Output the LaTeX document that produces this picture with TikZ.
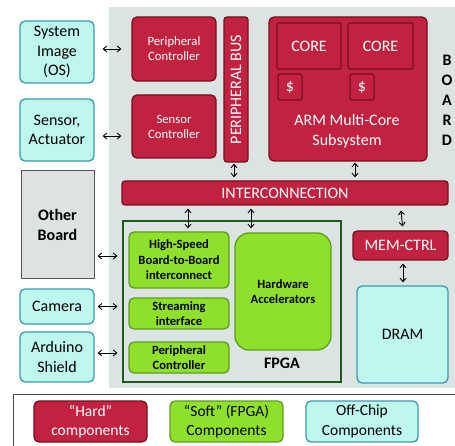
\documentclass[tikz,border=0pt]{standalone}
\usepackage{fontspec}
\setmainfont{Carlito}
\usetikzlibrary{arrows.meta}
\definecolor{hardfill}{HTML}{C0223F}
\definecolor{harddraw}{HTML}{7A0E1E}
\definecolor{softfill}{HTML}{8EE02A}
\definecolor{softdraw}{HTML}{5E9E1E}
\definecolor{offfill}{HTML}{BDF7EE}
\definecolor{offdraw}{HTML}{3A9BAA}
\definecolor{boardbg}{HTML}{DCE3E3}
\definecolor{otherfill}{HTML}{DEE2E2}
\definecolor{otherdraw}{HTML}{555555}
\definecolor{fpgadraw}{HTML}{1E5A1E}
\tikzset{
  box/.style={rounded corners=5pt, line width=1.3pt, inner sep=0pt, align=center},
  hard/.style={box, fill=hardfill, draw=harddraw, text=white},
  soft/.style={box, fill=softfill, draw=softdraw, text=black},
  offchip/.style={box, fill=offfill, draw=offdraw, text=black},
  big/.style={font=\fontsize{16}{19.5}\selectfont},
  small/.style={font=\fontsize{12.7}{15}\selectfont},
  softtxt/.style={font=\bfseries\fontsize{12.6}{15.5}\selectfont},
  biarrow/.style={{Straight Barb[length=3.5pt,width=6pt]}-{Straight Barb[length=3.5pt,width=6pt]}, line width=0.9pt, black},
}
\begin{document}
\begin{tikzpicture}[x=1pt,y=-1pt]
\useasboundingbox (0,0) rectangle (455,446);
% board background
\fill[boardbg] (109,7) rectangle (455,388);

% off-chip left
\node[offchip, big, minimum width=74pt, minimum height=62pt] (sysimg) at (57,52) {System\\Image\\(OS)};
\node[offchip, big, minimum width=74pt, minimum height=62pt] (sensor) at (57,130) {Sensor,\\Actuator};
\node[box, fill=otherfill, draw=otherdraw, rounded corners=0pt, line width=1pt, big, font=\bfseries\fontsize{16}{19.5}\selectfont, minimum width=73pt, minimum height=108pt] (other) at (57.5,225) {Other\\Board};
\node[offchip, big, minimum width=74pt, minimum height=35pt] (camera) at (57,306.5) {Camera};
\node[offchip, big, minimum width=74pt, minimum height=50pt] (arduino) at (57,357) {Arduino\\Shield};

% hard components
\node[hard, small, minimum width=84pt, minimum height=64pt] (pc) at (174,49) {Peripheral\\Controller};
\node[hard, small, minimum width=84pt, minimum height=63pt] (sc) at (174,126.5) {Sensor\\Controller};
\node[hard, rounded corners=3pt, minimum width=24pt, minimum height=145pt] (pbus) at (236,89.5) {};
\node[text=white, big, rotate=90] (pbustxt) at (236,89.5) {PERIPHERAL BUS};
\node[hard, minimum width=158pt, minimum height=144pt] (arm) at (348,89) {};
\node[hard, big, rounded corners=2pt, minimum width=64pt, minimum height=46pt] (core1) at (309,46) {CORE};
\node[hard, big, rounded corners=2pt, minimum width=65pt, minimum height=46pt] (core2) at (380.5,46) {CORE};
\node[hard, big, rounded corners=2pt, minimum width=24pt, minimum height=26pt] (cache1) at (290,87) {\$};
\node[hard, big, rounded corners=2pt, minimum width=24pt, minimum height=26pt] (cache2) at (362,87) {\$};
\node[text=white, big, align=center] (armtxt) at (347,131) {ARM Multi-Core\\Subsystem};
\node[font=\bfseries\fontsize{16}{20}\selectfont, align=center] (boardtxt) at (447,100) {B\\O\\A\\R\\D};
\node[hard, big, rounded corners=3pt, minimum width=326pt, minimum height=24pt] (ic) at (285,193) {INTERCONNECTION};

% FPGA
\node[draw=fpgadraw, line width=1.2pt, minimum width=218pt, minimum height=161pt, inner sep=0pt] (fpga) at (232,301.5) {};
\node[soft, softtxt, minimum width=100pt, minimum height=56pt] (hs) at (179,260) {High-Speed\\Board-to-Board\\interconnect};
\node[soft, softtxt, minimum width=100pt, minimum height=31pt] (stream) at (179,313.5) {Streaming\\interface};
\node[soft, softtxt, minimum width=100pt, minimum height=31pt] (pcg) at (179,357.5) {Peripheral\\Controller};
\node[soft, softtxt, rounded corners=14pt, minimum width=96pt, minimum height=117pt] (hwacc) at (283,291.5) {Hardware\\Accelerators};
\node[font=\bfseries\fontsize{16}{19.5}\selectfont] (fpgatxt) at (282,363) {FPGA};

% memory
\node[hard, big, rounded corners=4pt, minimum width=95pt, minimum height=29pt] (memctrl) at (400.5,245.5) {MEM-CTRL};
\node[offchip, big, minimum width=91pt, minimum height=97pt] (dram) at (402.5,334.5) {DRAM};

% arrows
\draw[biarrow, shorten <=8pt, shorten >=10pt] (sysimg.east |- pc) -- (pc.west);
\draw[biarrow, shorten <=8pt, shorten >=10pt] ([yshift=-6pt]sensor.east) -- ([yshift=-6pt]sensor.east -| sc.west);
\draw[biarrow, shorten <=3pt, shorten >=5pt] ([yshift=-31pt]other.east) -- ([yshift=-31pt]other.east -| fpga.west);
\draw[biarrow, shorten <=3pt, shorten >=5pt] (camera.east) -- (camera.east -| fpga.west);
\draw[biarrow, shorten <=3pt, shorten >=5pt] ([yshift=4pt]arduino.east) -- ([yshift=4pt]arduino.east -| fpga.west);
\draw[biarrow, shorten <=1pt, shorten >=3pt] ([xshift=-2pt]pbus.south) -- ([xshift=-2pt]pbus.south |- ic.north);
\draw[biarrow, shorten <=1pt, shorten >=3pt] ([xshift=7pt]arm.south) -- ([xshift=7pt]arm.south |- ic.north);
\draw[biarrow, shorten <=3pt, shorten >=3pt] (ic.south -| 188,0) -- (hs.north -| 188,0);
\draw[biarrow, shorten <=3pt, shorten >=4pt] (ic.south -| 251,0) -- (hwacc.north -| 251,0);
\draw[biarrow, shorten <=5pt, shorten >=4pt] (ic.south -| memctrl.north) -- ([xshift=2.5pt]memctrl.north);
\draw[biarrow, shorten <=3pt, shorten >=3pt] ([xshift=2.5pt]memctrl.south) -- ([xshift=2.5pt]memctrl.south |- dram.north);

% legend
\draw[line width=0.8pt, black!70] (13,450) -- (13,394) -- (462,394);
\node[hard, font=\fontsize{15.5}{19.5}\selectfont, minimum width=113pt, minimum height=41pt] (lhard) at (90.5,421.5) {“Hard”\\components};
\node[soft, font=\fontsize{15.5}{19.5}\selectfont, minimum width=113pt, minimum height=41pt] (lsoft) at (226.5,421.5) {“Soft” (FPGA)\\Components};
\node[offchip, font=\fontsize{15.5}{19.5}\selectfont, minimum width=112pt, minimum height=41pt] (loff) at (362,421.5) {Off-Chip\\Components};
\end{tikzpicture}
\end{document}
